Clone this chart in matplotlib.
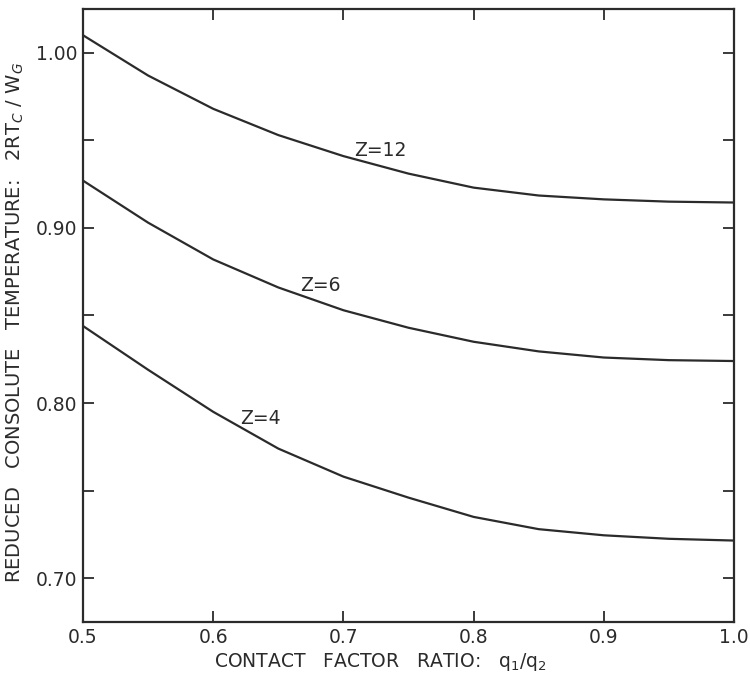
import matplotlib
matplotlib.use("Agg")
import matplotlib.pyplot as plt
from matplotlib.ticker import MultipleLocator

# contact factor ratio q1/q2
q_ratio = [0.50, 0.55, 0.60, 0.65, 0.70, 0.75, 0.80, 0.85, 0.90, 0.95, 1.00]

# reduced consolute temperature 2RTc/Wg
t_z12 = [1.010, 0.987, 0.968, 0.953, 0.941, 0.931, 0.923, 0.9185, 0.9163, 0.915, 0.9145]
t_z6 = [0.927, 0.903, 0.882, 0.866, 0.853, 0.843, 0.835, 0.8295, 0.826, 0.8245, 0.824]
t_z4 = [0.844, 0.819, 0.795, 0.774, 0.758, 0.746, 0.735, 0.728, 0.7245, 0.7225, 0.7215]

labels = ["Z=12", "Z=6", "Z=4"]
label_pos = [(0.728, 0.944), (0.682, 0.867), (0.636, 0.791)]

plt.rcParams["font.family"] = "DejaVu Sans"
ink = "#2b2b2b"

fig = plt.figure(figsize=(7.5, 6.86), dpi=100)
ax = fig.add_axes([0.1107, 0.0933, 0.868, 0.8936])

for t in (t_z12, t_z6, t_z4):
    ax.plot(q_ratio, t, color=ink, lw=1.6)

for lab, (x, y) in zip(labels, label_pos):
    ax.text(x, y, lab, fontsize=13.5, color=ink, ha="center", va="center")

ax.set_xlim(0.5, 1.0)
ax.set_ylim(0.675, 1.025)

ax.xaxis.set_major_locator(MultipleLocator(0.1))
ax.yaxis.set_major_locator(MultipleLocator(0.1))
ax.yaxis.set_minor_locator(MultipleLocator(0.05))
ax.xaxis.set_major_formatter(plt.FuncFormatter(lambda v, p: f"{v:.1f}"))
ax.yaxis.set_major_formatter(plt.FuncFormatter(lambda v, p: f"{v:.2f}"))

ax.tick_params(axis="both", which="both", direction="in", color=ink,
               labelcolor=ink, labelsize=13.5, width=1.3)
ax.tick_params(axis="x", which="major", length=8, top=True, pad=4)
ax.tick_params(axis="y", which="major", length=8, right=True, pad=4)
ax.tick_params(axis="y", which="minor", length=8, right=True)

for s in ax.spines.values():
    s.set_color(ink)
    s.set_linewidth(1.6)

ax.set_xlabel("CONTACT   FACTOR   RATIO:   q$_1$/q$_2$", fontsize=13.5, color=ink)
ax.set_ylabel("REDUCED   CONSOLUTE   TEMPERATURE:   2RT$_C$ / W$_G$", fontsize=14,
              color=ink)
ax.xaxis.set_label_coords(0.456, -0.048)
ax.yaxis.set_label_coords(-0.087, 0.489)

fig.savefig("out.png", dpi=100)
